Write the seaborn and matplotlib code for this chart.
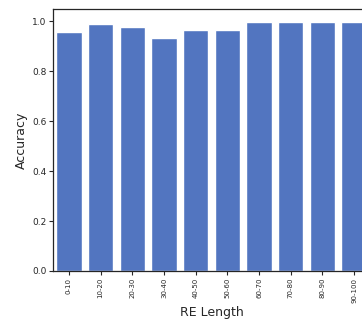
import matplotlib
matplotlib.use("Agg")
import matplotlib.pyplot as plt
import seaborn as sns
import pandas as pd

categories = ["0-10", "10-20", "20-30", "30-40", "40-50", "50-60", "60-70", "70-80", "80-90", "90-100"]
accuracy = [0.959, 0.991, 0.979, 0.935, 0.967, 0.967, 0.998, 0.998, 0.998, 0.998]

sns.set_theme(style="ticks")
plt.rcParams['font.family'] = ['DejaVu Sans']

df = pd.DataFrame({"RE Length": categories, "Accuracy": accuracy})

fig = plt.figure(figsize=(3.62, 3.25), dpi=100)
ax = fig.add_axes([53/362, 1 - 271/325, (370 - 53)/362, (271 - 9)/325])
sns.barplot(data=df, x="RE Length", y="Accuracy", color="#5275C0", saturation=1.0, width=0.8, ax=ax)
ax.set_ylim(0, 1.05)
ax.set_xlim(-0.5, len(categories) - 0.5)
ax.set_yticks([0.0, 0.2, 0.4, 0.6, 0.8, 1.0])
ax.tick_params(axis="y", labelsize=6.5, length=3, width=0.8, pad=1.5)
ax.tick_params(axis="x", labelsize=5, length=3, width=0.8, rotation=90, pad=2)
ax.set_xlabel("RE Length", fontsize=9, labelpad=2)
ax.set_ylabel("Accuracy", fontsize=9, labelpad=3)
for s in ax.spines.values():
    s.set_linewidth(0.9)
fig.savefig("out.png", dpi=100)
